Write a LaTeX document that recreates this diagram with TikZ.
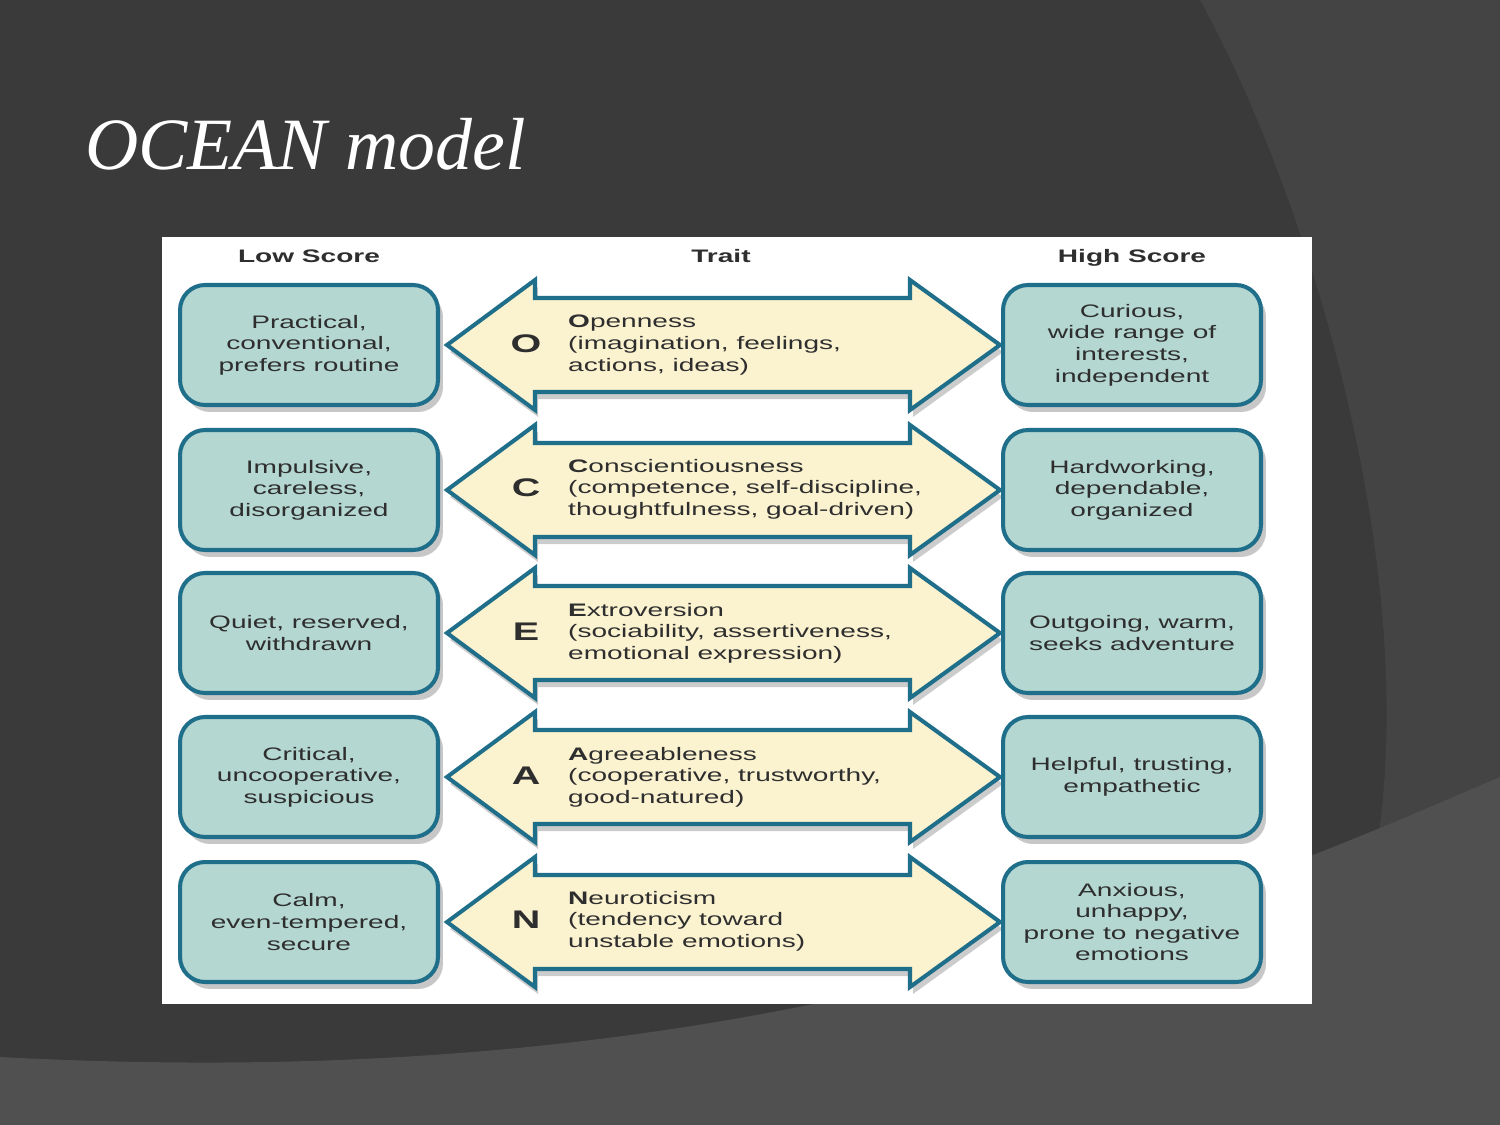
\documentclass[tikz,border=0pt]{standalone}
\usepackage{fontspec}
\usepackage{tikz}
\usepackage{xcolor}
\usetikzlibrary{shadows}
\setmainfont{Liberation Serif}
\newfontfamily\panelfont{Liberation Sans}[FakeStretch=1.55]
\definecolor{slidebg}{HTML}{3A3A3A}
\definecolor{slidelight}{HTML}{444444}
\definecolor{slideband}{HTML}{505050}
\definecolor{tealedge}{HTML}{1F6E8A}
\definecolor{tealfill}{HTML}{B4D7D1}
\definecolor{creamfill}{HTML}{FBF2D0}
\definecolor{textgray}{HTML}{2E2E2E}

\begin{document}
\begin{tikzpicture}[x=0.02cm, y=-0.02cm,
    every node/.style={font=\panelfont\fontsize{10.3}{12.3}\selectfont, text=textgray},
    scorebox/.style={draw=tealedge, line width=2.3pt, fill=tealfill, rounded corners=0.5cm,
      minimum width=5.16cm, minimum height=2.4cm, align=center,
      drop shadow={shadow xshift=0.1cm, shadow yshift=-0.14cm, fill=black, opacity=0.22}},
    traitarrow/.style={draw=tealedge, line width=2.3pt, fill=creamfill, line join=miter,
      drop shadow={shadow xshift=0.06cm, shadow yshift=-0.14cm, fill=black, opacity=0.2}},
    letter/.style={font=\panelfont\fontsize{14.5}{14.5}\selectfont\bfseries}]
        \useasboundingbox (0,0) rectangle (1500,1125);
        % slide background
        \fill[slidebg] (0,0) rectangle (1500,1125);
        \fill[slidelight] (1200,0) .. controls (1300,180) and (1420,550) .. (1378,840) .. controls (1350,960) and (1300,1060) .. (1280,1125) -- (1500,1125) -- (1500,0) -- cycle;
        \fill[slideband] (0,1057) .. controls (400,1078) and (750,1040) .. (1100,930) .. controls (1250,885) and (1400,820) .. (1500,777) -- (1500,1125) -- (0,1125) -- cycle;
        \node[anchor=base west, text=white, font=\fontsize{42}{50}\selectfont\itshape] (title) at (79,170) {OCEAN model};
        % white panel
        \fill[white] (162,237) rectangle (1312,1004);
        \node[anchor=base] (lowhead) at (309,262) {\bfseries Low Score};
        \node[anchor=base] (traithead) at (721,262) {\bfseries Trait};
        \node[anchor=base] (highhead) at (1132,262) {\bfseries High Score};
        % O
        \draw[traitarrow] (447,345) -- ++(88,-65) -- ++(0,18) -- ++(375,0) -- ++(0,-18) -- ++(90,65) -- ++(-90,65) -- ++(0,-18) -- ++(-375,0) -- ++(0,18) -- cycle;
        \node[scorebox] (lowO) at (309,345) {Practical,\\conventional,\\prefers routine};
        \node[letter] (letO) at (526,344) {O};
        \node[anchor=west, align=left] (traitO) at (562,345) {\textbf{O}penness\\(imagination, feelings,\\actions, ideas)};
        \node[scorebox] (highO) at (1132,345) {Curious,\\wide range of\\interests,\\independent};
        % C
        \draw[traitarrow] (447,490) -- ++(88,-65) -- ++(0,18) -- ++(375,0) -- ++(0,-18) -- ++(90,65) -- ++(-90,65) -- ++(0,-18) -- ++(-375,0) -- ++(0,18) -- cycle;
        \node[scorebox] (lowC) at (309,490) {Impulsive,\\careless,\\disorganized};
        \node[letter] (letC) at (526,488) {C};
        \node[anchor=west, align=left] (traitC) at (562,489) {\textbf{C}onscientiousness\\(competence, self-discipline,\\thoughtfulness, goal-driven)};
        \node[scorebox] (highC) at (1132,490) {Hardworking,\\dependable,\\organized};
        % E
        \draw[traitarrow] (447,633) -- ++(88,-65) -- ++(0,18) -- ++(375,0) -- ++(0,-18) -- ++(90,65) -- ++(-90,65) -- ++(0,-18) -- ++(-375,0) -- ++(0,18) -- cycle;
        \node[scorebox] (lowE) at (309,633) {Quiet, reserved,\\withdrawn};
        \node[letter] (letE) at (526,632) {E};
        \node[anchor=west, align=left] (traitE) at (562,633) {\textbf{E}xtroversion\\(sociability, assertiveness,\\emotional expression)};
        \node[scorebox] (highE) at (1132,633) {Outgoing, warm,\\seeks adventure};
        % A
        \draw[traitarrow] (447,777) -- ++(88,-65) -- ++(0,18) -- ++(375,0) -- ++(0,-18) -- ++(90,65) -- ++(-90,65) -- ++(0,-18) -- ++(-375,0) -- ++(0,18) -- cycle;
        \node[scorebox] (lowA) at (309,777) {Critical,\\uncooperative,\\suspicious};
        \node[letter] (letA) at (526,776) {A};
        \node[anchor=west, align=left] (traitA) at (562,777) {\textbf{A}greeableness\\(cooperative, trustworthy,\\good-natured)};
        \node[scorebox] (highA) at (1132,777) {Helpful, trusting,\\empathetic};
        % N
        \draw[traitarrow] (447,922) -- ++(88,-65) -- ++(0,18) -- ++(375,0) -- ++(0,-18) -- ++(90,65) -- ++(-90,65) -- ++(0,-18) -- ++(-375,0) -- ++(0,18) -- cycle;
        \node[scorebox] (lowN) at (309,922) {Calm,\\even-tempered,\\secure};
        \node[letter] (letN) at (526,920) {N};
        \node[anchor=west, align=left] (traitN) at (562,921) {\textbf{N}euroticism\\(tendency toward\\unstable emotions)};
        \node[scorebox] (highN) at (1132,922) {Anxious,\\unhappy,\\prone to negative\\emotions};
      \end{tikzpicture}
\end{document}
